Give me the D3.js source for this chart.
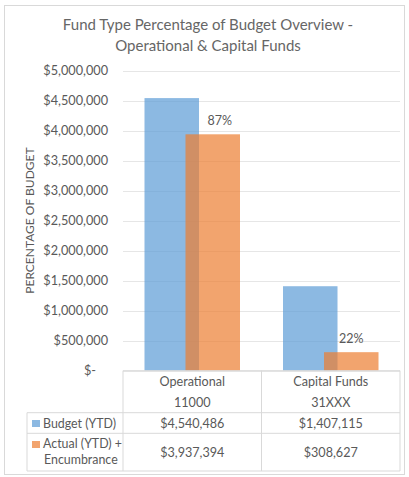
<!DOCTYPE html>
<html>
<head>
<meta charset="utf-8">
<script src="https://cdn.jsdelivr.net/npm/d3@7/dist/d3.min.js"></script>
<style>
  body { margin: 0; background: #fff; }
  text { font-family: Lato, 'Open Sans', sans-serif; fill: #595959; }
</style>
</head>
<body>
<svg id="chart" width="409" height="477"></svg>
<script>
'use strict';

// data
var categories = ['Operational', 'Capital Funds'];
var categoryCodes = ['11000', '31XXX'];
var seriesNames = ['Budget (YTD)', 'Actual (YTD) + Encumbrance'];
var budget = [4540486, 1407115];
var actual = [3937394, 308627];
var percentLabels = ['87%', '22%'];
var yTicks = [0, 500000, 1000000, 1500000, 2000000, 2500000, 3000000, 3500000, 4000000, 4500000, 5000000];

var colors = ['#5B9BD5', '#ED7D31'];

var svg = d3.select('#chart');

// outer border
svg.append('rect')
  .attr('x', 4.5).attr('y', 5.5)
  .attr('width', 400).attr('height', 469)
  .attr('fill', '#fff')
  .attr('stroke', '#D9D9D9');

// title
var title = svg.append('text')
  .attr('text-anchor', 'middle')
  .attr('font-size', '15px')
  .style('fill', '#666');
title.append('tspan').attr('x', 208).attr('y', 30).text('Fund Type Percentage of Budget Overview -');
title.append('tspan').attr('x', 208).attr('y', 51).text('Operational & Capital Funds');

var plotLeft = 123, plotRight = 400, plotTop = 70.5, plotBottom = 370.7;

var x = d3.scaleBand()
  .domain(categories)
  .range([plotLeft, plotRight]);

var y = d3.scaleLinear()
  .domain([0, 5000000])
  .range([plotBottom, plotTop]);

// gridlines
svg.append('g')
  .selectAll('line')
  .data(yTicks)
  .enter().append('line')
  .attr('x1', plotLeft).attr('x2', plotRight)
  .attr('y1', d => Math.round(y(d)) + 0.5)
  .attr('y2', d => Math.round(y(d)) + 0.5)
  .attr('stroke', '#E6E6E6');

// y tick labels
var fmt = d3.format(',');
svg.append('g')
  .selectAll('text')
  .data(yTicks)
  .enter().append('text')
  .attr('x', d => d === 0 ? 96 : 108)
  .attr('y', d => y(d) + 4.5)
  .attr('text-anchor', 'end')
  .attr('font-size', '12.7px')
  .text(d => d === 0 ? '$-' : '$' + fmt(d));

// y axis title
svg.append('text')
  .attr('transform', 'translate(34,' + ((plotTop + plotBottom) / 2) + ')rotate(-90)')
  .attr('text-anchor', 'middle')
  .attr('font-size', '12px')
  .text('PERCENTAGE OF BUDGET');

// bars
var barW = 54.5, barOff = 20.5;
var bars = svg.append('g');
bars.selectAll('.budget')
  .data(budget)
  .enter().append('rect')
  .attr('class', 'budget')
  .attr('x', (d, i) => x(categories[i]) + x.bandwidth() / 2 - barOff - barW / 2)
  .attr('y', d => y(d))
  .attr('width', barW)
  .attr('height', d => plotBottom - y(d))
  .attr('fill', colors[0])
  .attr('fill-opacity', 0.7);

bars.selectAll('.actual')
  .data(actual)
  .enter().append('rect')
  .attr('class', 'actual')
  .attr('x', (d, i) => x(categories[i]) + x.bandwidth() / 2 + barOff - barW / 2)
  .attr('y', d => y(d))
  .attr('width', barW)
  .attr('height', d => plotBottom - y(d))
  .attr('fill', colors[1])
  .attr('fill-opacity', 0.7);

// percent labels
svg.append('g')
  .selectAll('text')
  .data(actual)
  .enter().append('text')
  .attr('x', (d, i) => x(categories[i]) + x.bandwidth() / 2 + barOff + (i === 0 ? 7 : 0))
  .attr('y', d => y(d) - 9)
  .attr('text-anchor', 'middle')
  .attr('font-size', '12.5px')
  .text((d, i) => percentLabels[i]);

// data table
var tableLeft = 27, row1 = 412.7, row2 = 433.3, row3 = 471;
var grid = svg.append('g')
  .attr('stroke', '#D9D9D9')
  .attr('fill', 'none');
grid.append('path')
  .attr('d', 'M' + plotLeft + ',' + plotBottom + 'H' + plotRight + 'V' + row3 + 'H' + tableLeft + 'V' + row1 + 'H' + plotRight
    + 'M' + tableLeft + ',' + row2 + 'H' + plotRight
    + 'M' + plotLeft + ',' + plotBottom + 'V' + row3);
grid.selectAll('.div')
  .data(categories.slice(1))
  .enter().append('line')
  .attr('x1', d => x(d)).attr('x2', d => x(d))
  .attr('y1', plotBottom).attr('y2', row3);

var cx = c => x(c) + x.bandwidth() / 2;
var tbl = svg.append('g').attr('text-anchor', 'middle').attr('font-size', '12.6px');
tbl.selectAll('.cat')
  .data(categories)
  .enter().append('text')
  .attr('x', d => cx(d))
  .attr('y', 386)
  .text(d => d);
tbl.selectAll('.code')
  .data(categoryCodes)
  .enter().append('text')
  .attr('x', (d, i) => cx(categories[i]))
  .attr('y', 407)
  .text(d => d);
tbl.selectAll('.bval')
  .data(budget)
  .enter().append('text')
  .attr('x', (d, i) => cx(categories[i]))
  .attr('y', 427.5)
  .text(d => '$' + fmt(d));
tbl.selectAll('.aval')
  .data(actual)
  .enter().append('text')
  .attr('x', (d, i) => cx(categories[i]))
  .attr('y', 456.5)
  .text(d => '$' + fmt(d));

// legend keys in the table
var leg = svg.append('g').attr('font-size', '12.4px');
leg.append('rect')
  .attr('x', 32).attr('y', 420).attr('width', 8).attr('height', 7)
  .attr('fill', colors[0]).attr('fill-opacity', 0.7);
leg.append('text').attr('x', 43).attr('y', 427.5).text(seriesNames[0]);
leg.append('rect')
  .attr('x', 32).attr('y', 441).attr('width', 8).attr('height', 7)
  .attr('fill', colors[1]).attr('fill-opacity', 0.7);
var aText = leg.append('text');
aText.append('tspan').attr('x', 43).attr('y', 448).text('Actual (YTD) +');
aText.append('tspan').attr('x', 44).attr('y', 464).text('Encumbrance');
</script>
</body>
</html>
